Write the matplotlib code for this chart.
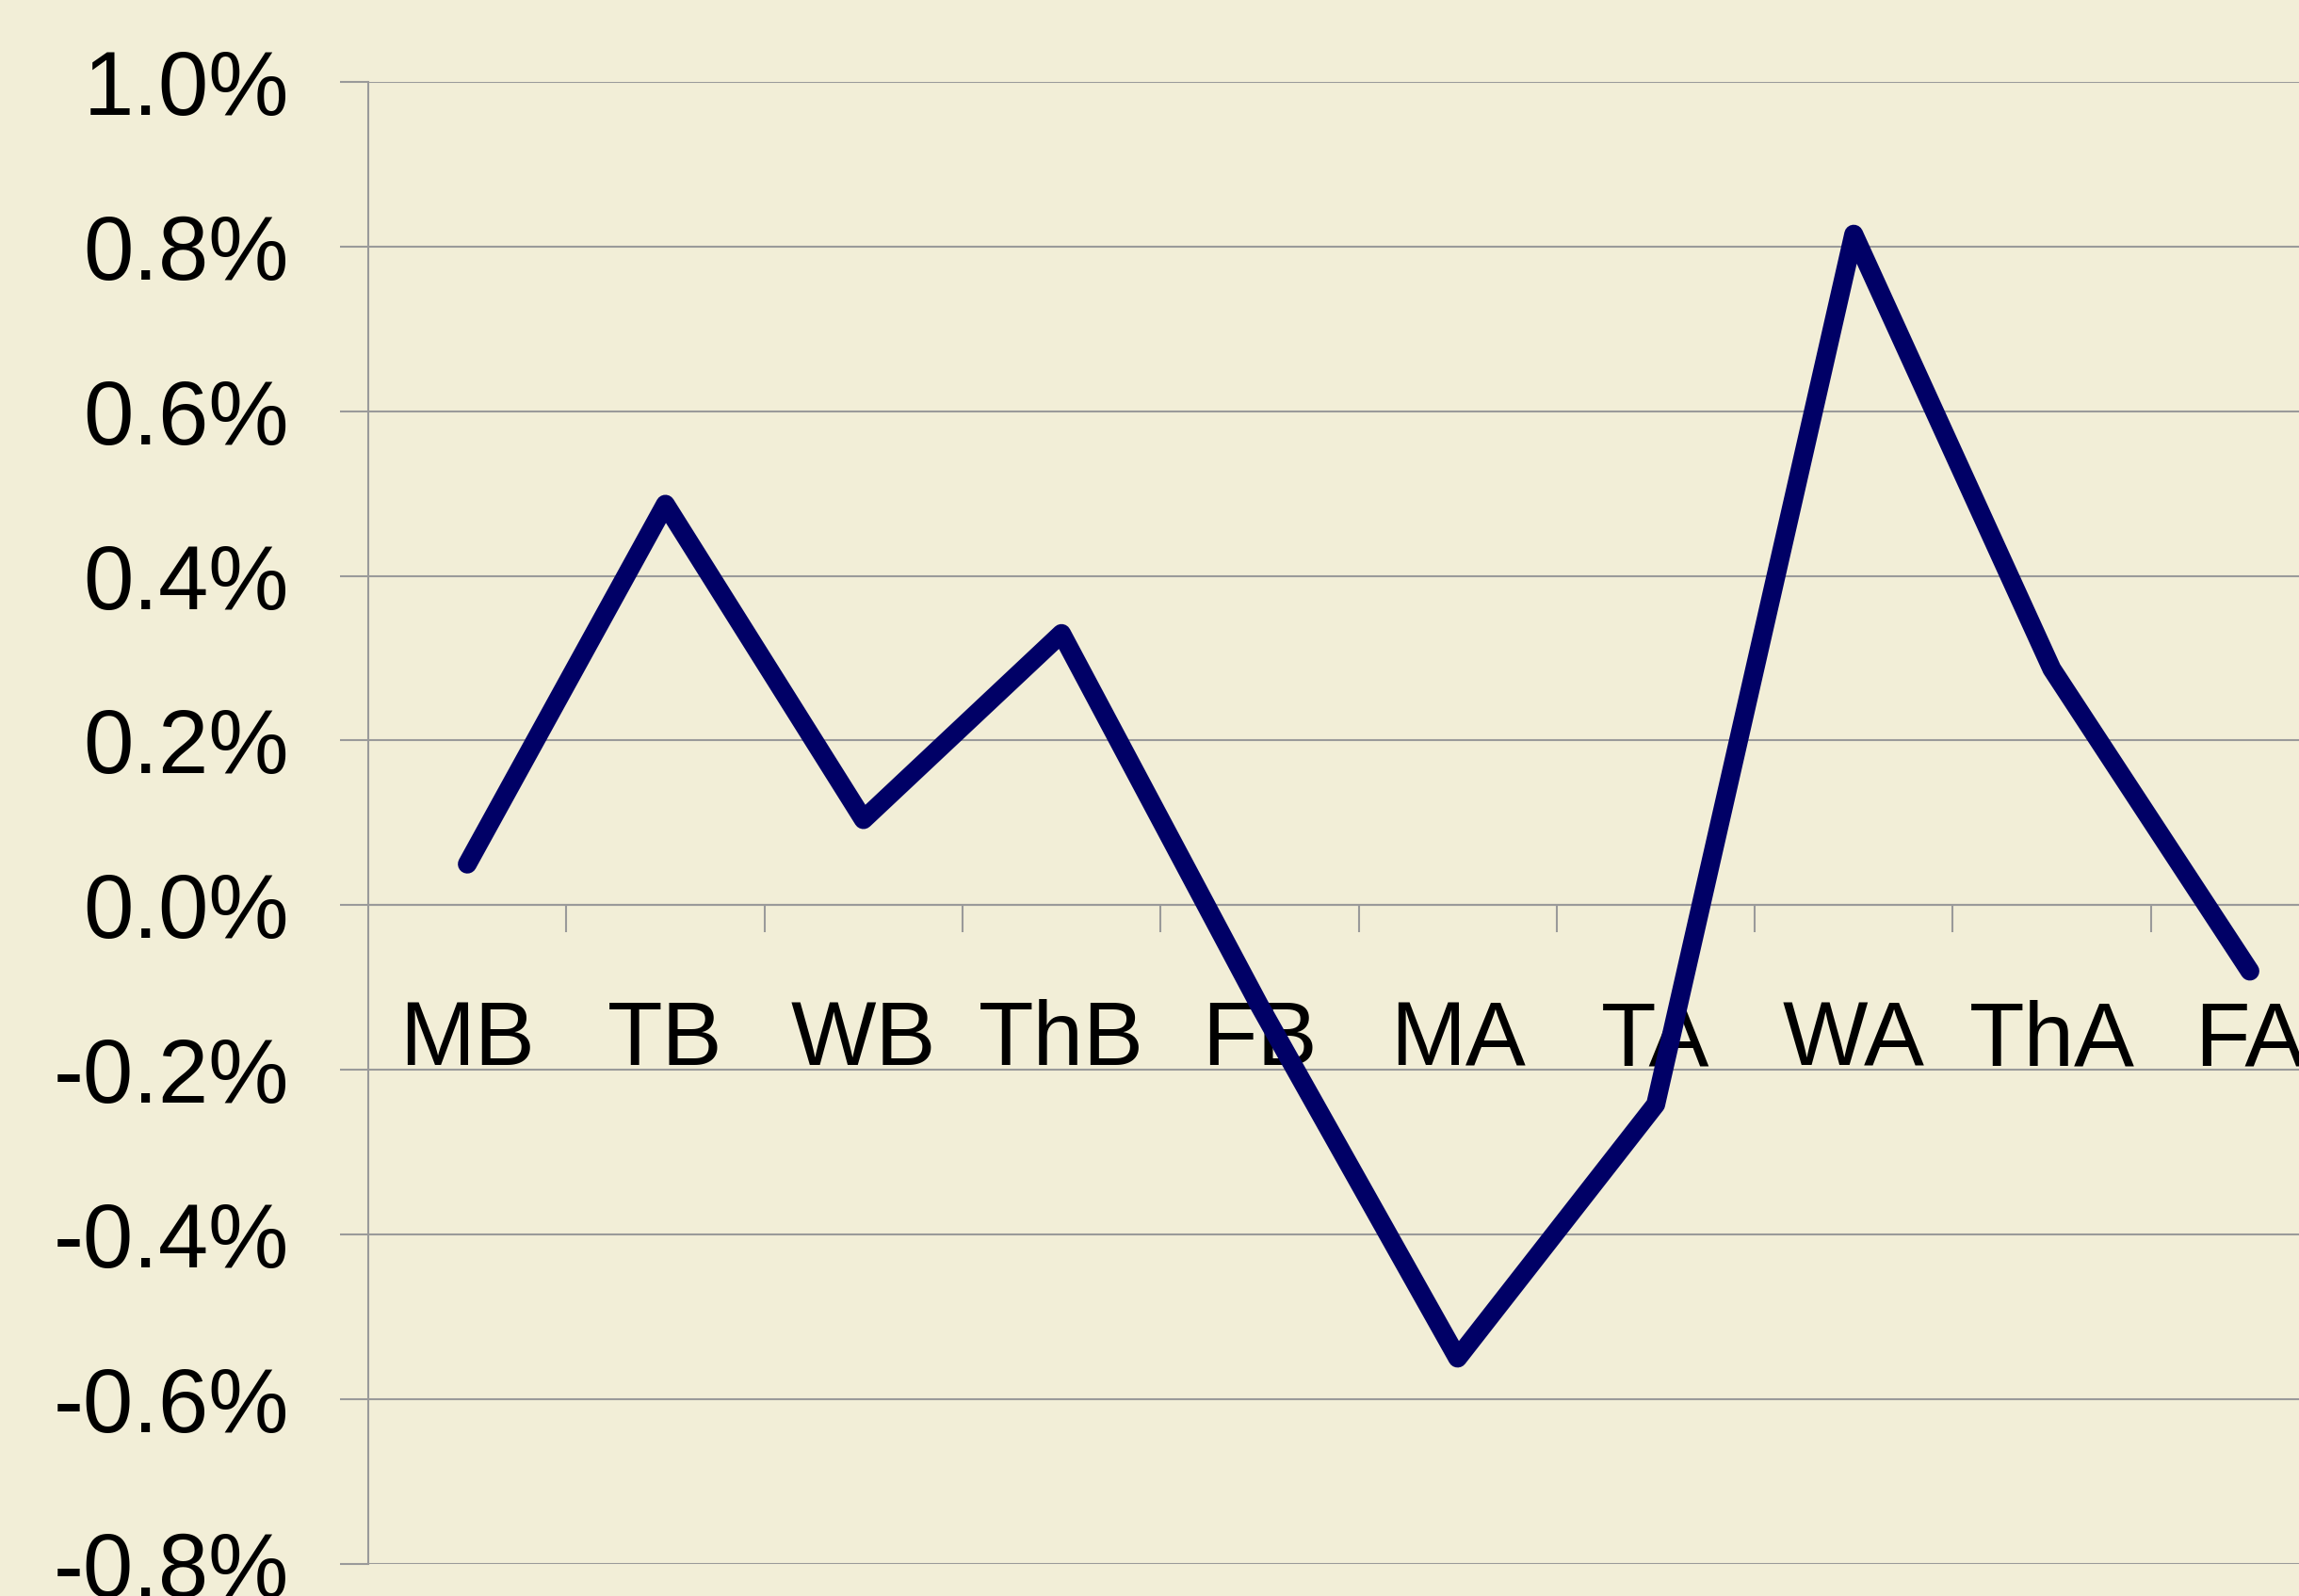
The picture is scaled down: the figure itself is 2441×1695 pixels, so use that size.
import numpy as np
import matplotlib
matplotlib.use('Agg')
import matplotlib.pyplot as plt
from matplotlib.ticker import FixedLocator, FuncFormatter

plt.rcParams['font.family'] = ['Liberation Sans', 'DejaVu Sans']

# ------------------------------------------------------------------------- #
# Daily change, before (B) and after (A)
days = ['MB', 'TB', 'WB', 'ThB', 'FB', 'MA', 'TA', 'WA', 'ThA', 'FA']
change_pct = [0.050, 0.487, 0.104, 0.330, -0.122, -0.550, -0.242, 0.815, 0.287, -0.080]
y_ticks = [-0.8, -0.6, -0.4, -0.2, 0.0, 0.2, 0.4, 0.6, 0.8, 1.0]
# ------------------------------------------------------------------------- #

bg = '#F2EED7'
grid_col = '#9A9A9A'

fig = plt.figure(figsize=(24.41, 16.95), dpi=100, facecolor=bg)
# the plot area runs past the right edge, as in the original slide
ax = fig.add_axes([0.1602, 0.0201, 0.8615, 0.9286], facecolor=bg)

x = np.arange(len(days))
ax.plot(x, change_pct, color='#000066', lw=14.5, solid_capstyle='round',
        solid_joinstyle='round', zorder=3, clip_on=False)

ax.set_xlim(-0.5, len(days) - 0.5)
ax.set_ylim(y_ticks[0], y_ticks[-1])

# y axis
ax.yaxis.set_major_locator(FixedLocator(y_ticks))
ax.yaxis.set_major_formatter(FuncFormatter(lambda v, p: '%.1f%%' % v))
ax.tick_params(axis='y', which='major', direction='out', length=21.6,
               width=1.5, color=grid_col, pad=39, labelsize=69)
ax.grid(True, axis='y', color=grid_col, lw=1.5, zorder=1)

# x axis sits on the zero line: boundary ticks + centred labels
ax.spines['bottom'].set_position(('data', 0))
ax.xaxis.set_major_locator(FixedLocator(x[:-1] + 0.5))
ax.xaxis.set_major_formatter(FuncFormatter(lambda v, p: ''))
ax.xaxis.set_minor_locator(FixedLocator(x))
ax.set_xticklabels(days, minor=True)
ax.tick_params(axis='x', which='major', direction='out', length=21,
               width=1.5, color=grid_col)
ax.tick_params(axis='x', which='minor', length=0, pad=72, labelsize=69)

for s in ['top', 'right']:
    ax.spines[s].set_visible(False)
for s in ['left', 'bottom']:
    ax.spines[s].set_color(grid_col)
    ax.spines[s].set_linewidth(1.5)

fig.savefig('out.png', dpi=100, facecolor=bg)
